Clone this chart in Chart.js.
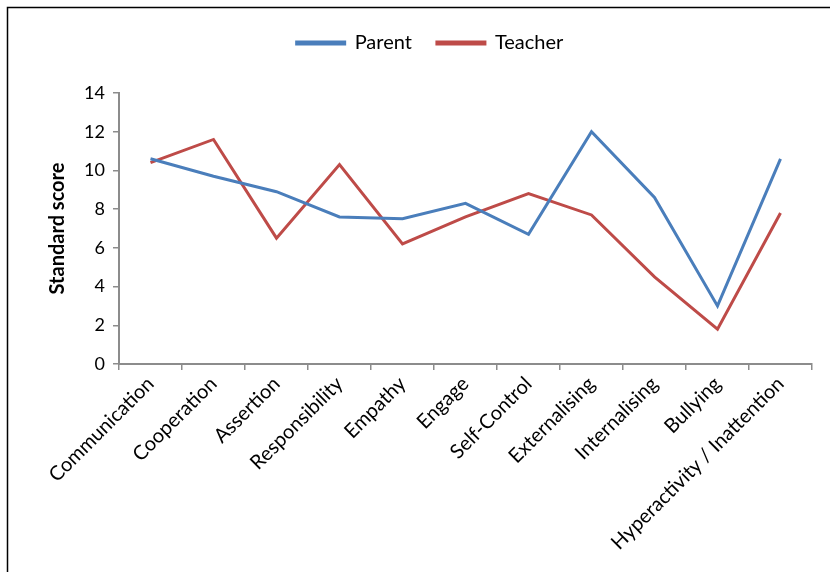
<!DOCTYPE html>
<html>
<head>
<meta charset="utf-8">
<script src="https://cdn.jsdelivr.net/npm/chart.js@4"></script>
<style>
    html, body { margin: 0; padding: 0; background: #fff; }
    #wrap { width: 830px; height: 572px; }
</style>
</head>
<body>
<div id="wrap"><canvas id="scoreChart" width="830" height="572"></canvas></div>
<script>
// Scale names along the x axis
const scales = ['Communication', 'Cooperation', 'Assertion', 'Responsibility', 'Empathy', 'Engage',
    'Self-Control', 'Externalising', 'Internalising', 'Bullying', 'Hyperactivity / Inattention'];

// Standard scores per informant
const parentScores = [10.6, 9.7, 8.9, 7.6, 7.5, 8.3, 6.7, 12.0, 8.6, 3.0, 10.6];
const teacherScores = [10.4, 11.6, 6.5, 10.3, 6.2, 7.6, 8.8, 7.7, 4.5, 1.8, 7.8];

const yTicks = [0, 2, 4, 6, 8, 10, 12, 14];

const FONT = 'Lato, "Open Sans", sans-serif';
const AXIS_GREY = '#8c8c8c';

// Draws the outer frame (left and top edges show inside the window)
const framePlugin = {
    id: 'frame',
    afterDraw(chart) {
        const ctx = chart.ctx;
        ctx.save();
        ctx.strokeStyle = '#000';
        ctx.lineWidth = 1.5;
        ctx.beginPath();
        ctx.moveTo(7.5, 600);
        ctx.lineTo(7.5, 7.5);
        ctx.lineTo(840, 7.5);
        ctx.stroke();
        ctx.restore();
    }
};

// Extra space under the legend
const legendGapPlugin = {
    id: 'legendGap',
    beforeInit(chart) {
        const fit = chart.legend.fit;
        chart.legend.fit = function () {
            fit.bind(chart.legend)();
            this.height += 30;
        };
    }
};

const ctx = document.getElementById('scoreChart').getContext('2d');
new Chart(ctx, {
    type: 'line',
    data: {
        labels: scales,
        datasets: [{
            label: 'Parent',
            data: parentScores,
            borderColor: '#4a7ebb',
            backgroundColor: '#4a7ebb',
            borderWidth: 3,
            pointRadius: 0,
            tension: 0
        }, {
            label: 'Teacher',
            data: teacherScores,
            borderColor: '#be4b48',
            backgroundColor: '#be4b48',
            borderWidth: 3,
            pointRadius: 0,
            tension: 0
        }]
    },
    options: {
        responsive: false,
        animation: false,
        layout: { padding: { top: 8, left: 48, right: 18, bottom: 0 } },
        plugins: {
            legend: {
                position: 'top',
                labels: {
                    color: '#000',
                    font: { family: FONT, size: 20 },
                    boxWidth: 48,
                    boxHeight: 2,
                    padding: 25
                }
            },
            tooltip: { enabled: false }
        },
        scales: {
            x: {
                offset: true,
                grid: {
                    offset: true,
                    drawOnChartArea: false,
                    drawTicks: true,
                    tickLength: 6,
                    color: AXIS_GREY,
                    lineWidth: 1.5
                },
                border: { color: AXIS_GREY, width: 2 },
                ticks: {
                    color: '#000',
                    font: { family: FONT, size: 20 },
                    maxRotation: 45,
                    minRotation: 45,
                    autoSkip: false,
                    padding: 2
                },
                afterFit(scale) { scale.height = 208; }
            },
            y: {
                min: 0,
                max: 14,
                afterBuildTicks(scale) { scale.ticks = yTicks.map(v => ({ value: v })); },
                grid: {
                    drawOnChartArea: false,
                    drawTicks: true,
                    tickLength: 6,
                    color: AXIS_GREY,
                    lineWidth: 1.5
                },
                border: { color: AXIS_GREY, width: 2 },
                ticks: {
                    color: '#000',
                    font: { family: FONT, size: 18 },
                    padding: 8
                },
                title: {
                    display: true,
                    text: 'Standard score',
                    color: '#000',
                    font: { family: FONT, size: 20, weight: 'bold', lineHeight: 1 },
                    padding: { top: 0, bottom: 0 }
                },
                afterFit(scale) { scale.width = 71; }
            }
        }
    },
    plugins: [framePlugin, legendGapPlugin]
});
</script>
</body>
</html>
